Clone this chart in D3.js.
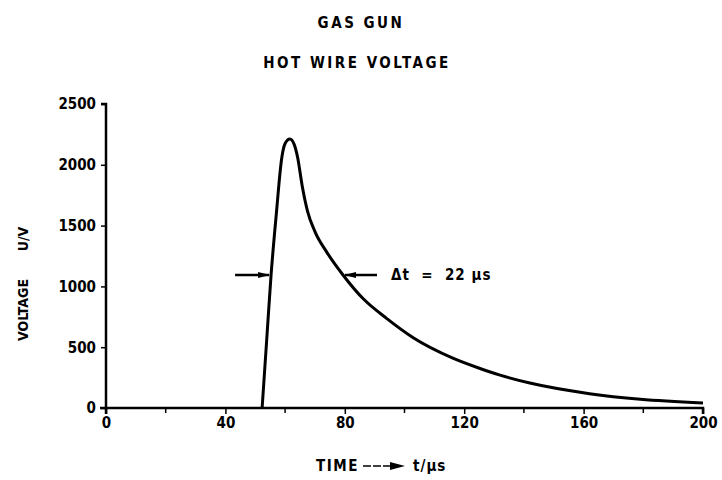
<!DOCTYPE html>
<html>
<head>
<meta charset="utf-8">
<script src="https://cdn.jsdelivr.net/npm/d3@7"></script>
<style>
body { margin: 0; background: #fff; }
text { font-family: "DejaVu Sans Condensed", "DejaVu Sans", sans-serif; font-weight: bold; fill: #000; }
</style>
</head>
<body>
<script>
const w = 722;
const h = 480;

// time in µs, voltage in V
const time = [52.3, 53.8, 55.3, 57.0, 58.9, 60.0, 61.6, 63.0, 64.2, 65.7, 67.5, 70.0, 74.0, 79.4, 86.1, 94.1, 102.8, 116.2, 125.3, 132.0, 142.0, 162.0, 179.0, 200];
const volts = [0, 547, 1094, 1580, 2060, 2175, 2212, 2170, 2060, 1830, 1620, 1450, 1280, 1094, 900, 735, 580, 410, 325, 270, 205, 118, 72, 42];

const xTicks = [0, 40, 80, 120, 160, 200];
const xMinor = [20, 60, 100, 140, 180];
const yTicks = [0, 500, 1000, 1500, 2000, 2500];

const svg = d3.select("body").append("svg")
    .attr("width", w)
    .attr("height", h);

const xScale = d3.scaleLinear().domain([0, 200]).range([106, 703]);
const yScale = d3.scaleLinear().domain([0, 2500]).range([408, 104]);

// titles
svg.append("text").attr("x", 361).attr("y", 28).attr("text-anchor", "middle")
    .attr("font-size", 15).attr("letter-spacing", 2.5).text("GAS GUN");
svg.append("text").attr("x", 357).attr("y", 68).attr("text-anchor", "middle")
    .attr("font-size", 15).attr("letter-spacing", 2.5).text("HOT WIRE VOLTAGE");

// x axis
const xAxis = d3.axisBottom(xScale)
    .tickValues(xTicks)
    .tickSize(6)
    .tickPadding(3)
    .tickFormat(d3.format("d"));

const gx = svg.append("g")
    .attr("transform", "translate(0," + yScale(0) + ")")
    .call(xAxis);
gx.select(".domain").attr("d", "M" + (xScale(0) - 6) + ",0H" + xScale(200) + "v6").attr("stroke-width", 2.5);
gx.selectAll(".tick line").attr("stroke-width", 1.5);
gx.selectAll(".tick text").attr("font-size", 15).attr("font-family", null);

svg.append("g")
    .selectAll("line")
    .data(xMinor)
    .enter()
    .append("line")
    .attr("x1", d => xScale(d)).attr("x2", d => xScale(d))
    .attr("y1", yScale(0)).attr("y2", yScale(0) + 5)
    .attr("stroke", "#000").attr("stroke-width", 1.5);

// y axis
const yAxis = d3.axisLeft(yScale)
    .tickValues(yTicks)
    .tickSize(5)
    .tickPadding(5)
    .tickFormat(d3.format("d"));

const gy = svg.append("g")
    .attr("transform", "translate(" + xScale(0) + ",0)")
    .call(yAxis);
gy.select(".domain").attr("d", "M-5," + yScale(2500) + "H0V" + (yScale(0) + 6)).attr("stroke-width", 2.5);
gy.selectAll(".tick line").attr("stroke-width", 1.5);
gy.selectAll(".tick text").attr("font-size", 15).attr("font-family", null);

// axis labels
svg.append("text")
    .attr("transform", "translate(28,310) rotate(-90)")
    .attr("text-anchor", "middle").attr("font-size", 14).text("VOLTAGE");
svg.append("text")
    .attr("transform", "translate(28,239) rotate(-90)")
    .attr("text-anchor", "middle").attr("font-size", 14).text("U/V");

svg.append("text").attr("x", 316).attr("y", 471).attr("font-size", 15).attr("letter-spacing", 1.5).text("TIME");
svg.append("line").attr("x1", 363).attr("x2", 402).attr("y1", 466).attr("y2", 466)
    .attr("stroke", "#000").attr("stroke-width", 1.5).attr("stroke-dasharray", "8,2");
svg.append("path").attr("d", "M390,462L405,466L390,470Z").attr("fill", "#000");
svg.append("text").attr("x", 413).attr("y", 471).attr("font-size", 15).attr("letter-spacing", 1).text("t/μs");

// trace
const line = d3.line()
    .x((d, i) => xScale(time[i]))
    .y(d => yScale(d))
    .curve(d3.curveMonotoneX);

svg.append("path")
    .datum(volts)
    .attr("d", line)
    .attr("fill", "none")
    .attr("stroke", "#000")
    .attr("stroke-width", 3)
    .attr("stroke-linejoin", "round");

// delta t annotation at half height
const halfV = 1094;
const tL = 55.3, tR = 79.4;
svg.append("line").attr("x1", xScale(tL) - 36).attr("x2", xScale(tL) - 2)
    .attr("y1", yScale(halfV)).attr("y2", yScale(halfV))
    .attr("stroke", "#000").attr("stroke-width", 2.5);
svg.append("path")
    .attr("d", `M${xScale(tL) - 1},${yScale(halfV)}l-12,-3v6z`).attr("fill", "#000");
svg.append("line").attr("x1", xScale(tR) + 2).attr("x2", xScale(tR) + 34)
    .attr("y1", yScale(halfV)).attr("y2", yScale(halfV))
    .attr("stroke", "#000").attr("stroke-width", 2.5);
svg.append("path")
    .attr("d", `M${xScale(tR) + 1},${yScale(halfV)}l12,-3v6z`).attr("fill", "#000");
svg.append("text").attr("x", 391).attr("y", yScale(halfV) + 5)
    .attr("font-size", 15).attr("letter-spacing", 1).attr("xml:space", "preserve").text("Δt  =  22 μs");
</script>
</body>
</html>
